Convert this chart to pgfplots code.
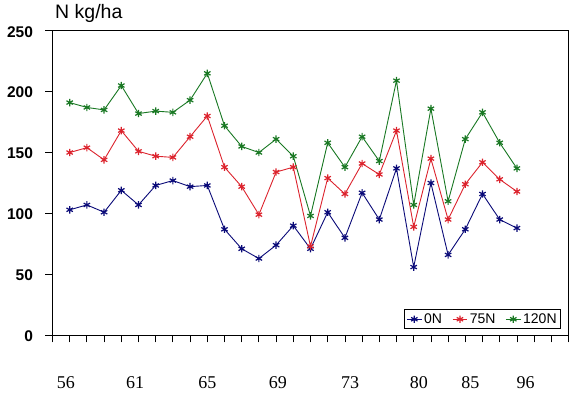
\documentclass[border=0pt]{standalone}
\usepackage{pgfplots}
\pgfplotsset{compat=1.18}
\usepackage{fontspec}
\setmainfont{Liberation Sans}
\newfontfamily\timesfont{Liberation Serif}
\definecolor{cnavy}{RGB}{10,10,120}
\definecolor{cred}{RGB}{220,35,45}
\definecolor{cgreen}{RGB}{25,120,35}
\pgfplotstableread{
x n0 n75 n120
1 103 150 191
2 107 154 187
3 101 144 185
4 119 168 205
5 107 151 182
6 123 147 184
7 127 146 183
8 122 163 193
9 123 180 215
10 87 138 172
11 71 122 155
12 63 99 150
13 74 134 161
14 90 138 147
15 71 73 98
16 101 129 158
17 80 116 138
18 117 141 163
19 95 132 143
20 137 168 209
21 56 89 107
22 125 145 186
23 66 95 110
24 87 124 161
25 116 142 183
26 95 128 158
27 88 118 137
}\datatable
\begin{document}
\begin{tikzpicture}[x=1pt,y=1pt]
\path[use as bounding box] (0,0) rectangle (581,399);
\begin{axis}[
  at={(52.5pt,63.7pt)}, anchor=south west,
  scale only axis, width=516pt, height=304.6pt,
  xmin=0, xmax=30, ymin=0, ymax=250,
  axis line style={line width=0.9pt},
  tick align=outside,
  tick pos=left,
  ytick={0,50,...,250},
  major tick length=7pt,
  xtick={0,1,...,30},
  xticklabels={},
  extra x ticks={0.78,4.8,9.0,13.1,17.3,21.3,24.3,27.5},
  extra x tick labels={56,61,65,69,73,80,85,96},
  extra x tick style={major tick length=0pt, tick style={draw=none},
    xticklabel style={font=\timesfont\fontsize{18}{18}\selectfont, yshift=-38pt}},
  tick style={draw=black, line width=0.8pt},
  yticklabel style={font=\bfseries\fontsize{15.5}{16}\selectfont, xshift=-9pt, yshift=-1pt},
  /pgf/number format/assume math mode=true,
  title={N kg/ha},
  title style={at={(rel axis cs:0,1)}, anchor=base west, yshift=6.4pt, xshift=2.5pt, inner sep=0pt, font=\fontsize{19.5}{20}\selectfont},
  legend style={at={(rel axis cs:0.9855,0.0197)}, anchor=south east, draw=black, line width=0.8pt, font=\fontsize{14}{14}\selectfont, legend columns=3, /tikz/every even column/.append style={column sep=8pt}, inner sep=2pt},
  legend image code/.code={\draw[mark repeat=2,mark phase=2] plot coordinates {(0cm,0cm) (0.26cm,0cm) (0.52cm,0cm)};},
]
\addplot[cnavy, line width=0.9pt, mark=asterisk, mark size=3.7pt, mark options={line width=1.2pt}] table[x=x,y=n0] {\datatable};
\addplot[cred, line width=0.9pt, mark=asterisk, mark size=3.7pt, mark options={line width=1.2pt}] table[x=x,y=n75] {\datatable};
\addplot[cgreen, line width=0.9pt, mark=asterisk, mark size=3.7pt, mark options={line width=1.2pt}] table[x=x,y=n120] {\datatable};
\legend{0N,75N,120N}
\end{axis}
\end{tikzpicture}
\end{document}
